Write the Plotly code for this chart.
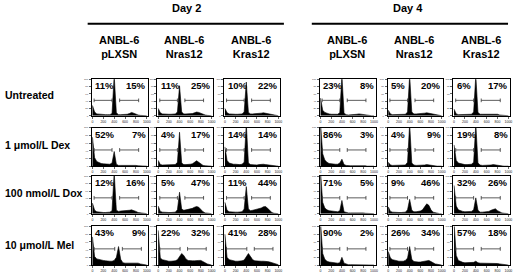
import plotly.graph_objects as go

W, H = 520, 273

# ---------------- data ----------------
days = ["Day 2", "Day 4"]
cell_lines = ["ANBL-6<br>pLXSN", "ANBL-6<br>Nras12", "ANBL-6<br>Kras12"]
treatments = ["Untreated", "1 \u03bcmol/L Dex", "100 nmol/L Dox", "10 \u03bcmol/L Mel"]
x_ticks = [0, 200, 400, 600, 800, 1000]
y_ticks = [0, 20, 40, 60, 80, 100]

# DNA content channels (bin centres)
channels = [0, 40, 80, 120, 160, 200, 240, 280, 320, 360, 400, 440, 480,
            520, 560, 600, 640, 680, 720, 760, 800, 840, 880, 920, 960, 1000]

# percent labels: (sub-G1 %, S/G2-M %), panel order row by row, Day2 x3 then Day4 x3
pct_untreated = [(11, 15), (11, 25), (10, 22), (23, 8), (5, 20), (6, 17)]
pct_dex = [(52, 7), (4, 17), (14, 14), (86, 3), (4, 9), (19, 8)]
pct_dox = [(12, 16), (5, 47), (11, 44), (71, 5), (9, 46), (32, 26)]
pct_mel = [(43, 9), (22, 32), (41, 28), (90, 2), (26, 34), (57, 18)]

# histogram counts (relative, % of panel height)
untr_d2_pLXSN = [28, 10, 5, 4, 3, 3, 3, 3, 3, 6, 110, 8, 3, 3, 3, 3, 4, 6, 9, 7, 4, 2, 1, 1, 0, 0]
untr_d2_Nras = [20, 8, 5, 4, 4, 4, 4, 4, 5, 10, 82, 10, 5, 5, 5, 5, 6, 8, 10, 9, 6, 3, 2, 1, 1, 0]
untr_d2_Kras = [20, 8, 5, 4, 4, 4, 4, 4, 5, 10, 92, 9, 5, 5, 5, 5, 6, 7, 8, 7, 5, 3, 2, 1, 0, 0]
untr_d4_pLXSN = [48, 15, 9, 6, 5, 4, 4, 4, 4, 8, 110, 7, 3, 2, 2, 2, 3, 4, 5, 4, 3, 2, 1, 1, 0, 0]
untr_d4_Nras = [15, 5, 3, 3, 3, 3, 3, 3, 4, 10, 110, 10, 5, 5, 5, 5, 6, 7, 8, 7, 5, 3, 2, 1, 0, 0]
untr_d4_Kras = [18, 5, 3, 3, 3, 3, 3, 3, 4, 10, 110, 9, 4, 4, 4, 4, 5, 6, 6, 5, 4, 2, 1, 1, 0, 0]

dex_d2_pLXSN = [75, 22, 12, 9, 7, 6, 5, 5, 5, 8, 38, 5, 2, 2, 2, 2, 2, 3, 3, 3, 2, 1, 1, 1, 0, 0]
dex_d2_Nras = [15, 4, 3, 3, 3, 3, 3, 3, 4, 10, 88, 8, 4, 4, 4, 5, 6, 10, 14, 10, 5, 2, 1, 1, 0, 0]
dex_d2_Kras = [50, 15, 8, 6, 5, 5, 4, 4, 5, 10, 110, 8, 4, 3, 3, 3, 4, 5, 5, 4, 3, 2, 1, 1, 0, 0]
dex_d4_pLXSN = [110, 32, 16, 10, 7, 6, 5, 5, 5, 8, 18, 4, 2, 1, 1, 1, 1, 2, 2, 1, 1, 1, 0, 0, 0, 0]
dex_d4_Nras = [10, 3, 2, 2, 2, 2, 2, 2, 3, 10, 110, 8, 3, 2, 2, 2, 3, 3, 4, 3, 2, 1, 1, 0, 0, 0]
dex_d4_Kras = [55, 15, 8, 6, 5, 4, 4, 4, 5, 10, 110, 8, 3, 2, 2, 2, 3, 3, 4, 3, 2, 1, 1, 0, 0, 0]

dox_d2_pLXSN = [28, 9, 5, 4, 3, 3, 3, 3, 4, 8, 110, 9, 6, 7, 7, 7, 8, 9, 10, 9, 6, 3, 2, 1, 0, 0]
dox_d2_Nras = [20, 6, 4, 3, 3, 3, 3, 3, 4, 10, 57, 12, 9, 10, 11, 12, 14, 17, 19, 17, 11, 5, 2, 1, 0, 0]
dox_d2_Kras = [30, 9, 5, 4, 4, 4, 4, 4, 5, 12, 72, 12, 8, 9, 10, 11, 13, 15, 18, 19, 14, 7, 3, 1, 0, 0]
dox_d4_pLXSN = [110, 30, 15, 10, 8, 7, 6, 5, 5, 8, 35, 5, 3, 2, 2, 2, 2, 3, 3, 2, 2, 1, 1, 0, 0, 0]
dox_d4_Nras = [18, 6, 4, 3, 3, 3, 3, 3, 4, 10, 38, 9, 5, 5, 6, 7, 10, 18, 26, 22, 10, 4, 2, 1, 0, 0]
dox_d4_Kras = [75, 20, 10, 7, 6, 5, 5, 5, 6, 10, 42, 9, 4, 4, 4, 5, 6, 9, 12, 13, 8, 4, 2, 1, 0, 0]

mel_d2_pLXSN = [73, 22, 16, 14, 13, 12, 11, 10, 10, 10, 12, 20, 48, 15, 6, 5, 5, 5, 5, 6, 6, 5, 3, 2, 1, 0]
mel_d2_Nras = [90, 18, 14, 12, 11, 10, 10, 10, 11, 14, 22, 30, 25, 16, 12, 11, 11, 11, 12, 12, 12, 10, 6, 3, 1, 0]
mel_d2_Kras = [80, 20, 14, 12, 11, 10, 10, 10, 11, 13, 20, 30, 22, 14, 11, 10, 10, 10, 10, 10, 9, 8, 6, 4, 2, 1]
mel_d4_pLXSN = [110, 30, 15, 10, 8, 7, 6, 5, 5, 6, 20, 5, 2, 1, 1, 1, 1, 1, 1, 1, 1, 0, 0, 0, 0, 0]
mel_d4_Nras = [35, 18, 14, 12, 11, 10, 10, 10, 12, 18, 48, 15, 9, 8, 8, 8, 9, 10, 12, 12, 9, 5, 3, 2, 1, 0]
mel_d4_Kras = [110, 25, 12, 9, 7, 6, 6, 6, 6, 7, 10, 6, 5, 5, 5, 5, 5, 5, 5, 5, 4, 3, 2, 1, 1, 0]

# analysis gates (channel ranges) for sub-G1 and S/G2-M regions
gate_std = [(30, 360), (500, 850)]
gate_mel_d2 = [(30, 410), (550, 900)]

# ---------------- assembly ----------------
hist_rows = [
    [untr_d2_pLXSN, untr_d2_Nras, untr_d2_Kras, untr_d4_pLXSN, untr_d4_Nras, untr_d4_Kras],
    [dex_d2_pLXSN, dex_d2_Nras, dex_d2_Kras, dex_d4_pLXSN, dex_d4_Nras, dex_d4_Kras],
    [dox_d2_pLXSN, dox_d2_Nras, dox_d2_Kras, dox_d4_pLXSN, dox_d4_Nras, dox_d4_Kras],
    [mel_d2_pLXSN, mel_d2_Nras, mel_d2_Kras, mel_d4_pLXSN, mel_d4_Nras, mel_d4_Kras],
]
pct_rows = [pct_untreated, pct_dex, pct_dox, pct_mel]

col_px = [(92, 149), (158, 214), (225, 281), (321, 377), (389, 445), (455, 512)]
row_px = [(79, 116), (128, 167), (177, 215), (228, 267)]

FONT = "Liberation Sans, Arial, Helvetica, sans-serif"
fig = go.Figure()
layout = dict(
    width=W, height=H, margin=dict(l=0, r=0, t=0, b=0),
    paper_bgcolor="white", plot_bgcolor="white", showlegend=False,
    font=dict(family=FONT, color="black"),
)
annotations = []
shapes = []

GATE_Y = 42
CAP = 5
for r in range(4):
    for c in range(6):
        k = r * 6 + c + 1
        xa = "x" if k == 1 else f"x{k}"
        ya = "y" if k == 1 else f"y{k}"
        xkey = "xaxis" if k == 1 else f"xaxis{k}"
        ykey = "yaxis" if k == 1 else f"yaxis{k}"
        x0, x1 = col_px[c]
        y0, y1 = row_px[r]
        layout[xkey] = dict(
            domain=[x0 / W, x1 / W], anchor=ya, range=[-15, 1030],
            showgrid=False, zeroline=False, showline=True, linecolor="black",
            linewidth=1, mirror=True, ticks="outside", ticklen=2, tickwidth=0.6,
            tickcolor="black", tickvals=x_ticks, ticktext=[str(v) for v in x_ticks],
            tickfont=dict(size=3.5, color="#222"), fixedrange=True,
        )
        layout[ykey] = dict(
            domain=[(H - y1) / H, (H - y0) / H], anchor=xa, range=[0, 100],
            showgrid=False, zeroline=False, showline=True, linecolor="black",
            linewidth=1, mirror=True, ticks="outside", ticklen=2, tickwidth=0.6,
            tickcolor="black", tickvals=y_ticks, ticktext=[str(v) for v in y_ticks],
            tickfont=dict(size=2.5, color="#333"), fixedrange=True,
        )
        fig.add_trace(go.Scatter(
            x=channels, y=hist_rows[r][c], mode="lines", xaxis=xa, yaxis=ya,
            line=dict(color="black", width=0.6), fill="tozeroy", fillcolor="black",
            hoverinfo="skip",
        ))
        gates = gate_mel_d2 if (r == 3 and c < 3) else gate_std
        gx, gy = [], []
        for lo, hi in gates:
            gx += [lo, lo, None, lo, hi, None, hi, hi, None]
            gy += [GATE_Y - CAP, GATE_Y + CAP, None, GATE_Y, GATE_Y, None,
                   GATE_Y - CAP, GATE_Y + CAP, None]
        fig.add_trace(go.Scatter(
            x=gx, y=gy, mode="lines", xaxis=xa, yaxis=ya,
            line=dict(color="#333", width=0.8), hoverinfo="skip",
        ))
        left_pct, right_pct = pct_rows[r][c]
        annotations.append(dict(
            text=f"<b>{left_pct}%</b>", xref=f"{xa} domain", yref=f"{ya} domain",
            x=0.03, y=1.0, xanchor="left", yanchor="top", showarrow=False,
            font=dict(size=9.5, family=FONT), yshift=1,
        ))
        annotations.append(dict(
            text=f"<b>{right_pct}%</b>", xref=f"{xa} domain", yref=f"{ya} domain",
            x=1.0, y=1.0, xanchor="right", yanchor="top", showarrow=False,
            font=dict(size=9.5, family=FONT), yshift=1,
        ))


def P(x, y):
    return x / W, 1 - y / H


# Day headers and lines
for (label, cx, lx0, lx1) in [(days[0], 187, 88, 285), (days[1], 410, 313, 510)]:
    ax, ay = P(cx, 7)
    annotations.append(dict(text=f"<b>{label}</b>", xref="paper", yref="paper",
                            x=ax, y=ay, showarrow=False, xanchor="center",
                            yanchor="middle", font=dict(size=11, family=FONT)))
    shapes.append(dict(type="line", xref="paper", yref="paper",
                       x0=lx0 / W, x1=lx1 / W, y0=1 - 23 / H, y1=1 - 23 / H,
                       line=dict(color="black", width=2)))

# Column headers
for c in range(6):
    cx = (col_px[c][0] + col_px[c][1]) / 2 - 1
    ax, ay = P(cx, 46.5)
    annotations.append(dict(text=f"<b>{cell_lines[c % 3]}</b>", xref="paper",
                            yref="paper", x=ax, y=ay, showarrow=False,
                            xanchor="center", yanchor="middle", align="center",
                            font=dict(size=11, family=FONT)))

# Row labels
row_label_y = [95, 146, 194, 247]
for r in range(4):
    ax, ay = P(3, row_label_y[r])
    annotations.append(dict(text=f"<b>{treatments[r]}</b>", xref="paper",
                            yref="paper", x=ax, y=ay, showarrow=False,
                            xanchor="left", yanchor="middle",
                            font=dict(size=10.5, family=FONT)))

layout["annotations"] = annotations
layout["shapes"] = shapes
fig.update_layout(**layout)
fig.write_html(
    "out.html",
    config={"displayModeBar": False, "staticPlot": True},
    post_script="document.body.style.margin='0px';document.body.style.padding='0px';"
                "document.body.style.overflow='hidden';",
)
